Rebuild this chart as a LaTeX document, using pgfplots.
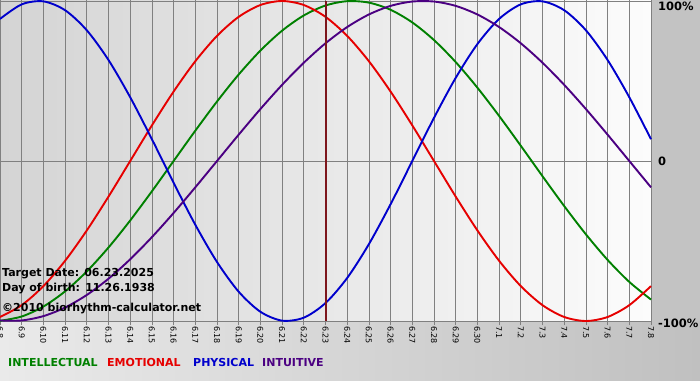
\documentclass[border=0pt]{standalone}
\usepackage{pgfplots}
\usepackage{pgfplotstable}
\pgfplotsset{compat=1.18}
\usepackage{fontspec}
\setmainfont{DejaVu Sans}
\definecolor{cInt}{RGB}{0,128,0}
\definecolor{cEmo}{RGB}{230,0,0}
\definecolor{cPhy}{RGB}{0,0,204}
\definecolor{cItu}{RGB}{75,0,130}
\definecolor{cTgt}{RGB}{125,22,28}
\definecolor{cGrid}{RGB}{128,128,128}
\definecolor{bgL}{RGB}{212,212,212}
\definecolor{bgR}{RGB}{252,252,252}
\definecolor{btL}{RGB}{234,234,234}
\definecolor{btR}{RGB}{192,192,192}
\definecolor{panel}{RGB}{195,195,195}

\pgfplotstableread{
d int emo phy itu
0 -0.9989 -0.9749 0.8879 -0.9966
1 -0.9718 -0.9010 0.9791 -0.9966
2 -0.9096 -0.7818 0.9977 -0.9694
3 -0.8146 -0.6235 0.9423 -0.9158
4 -0.6901 -0.4339 0.8170 -0.8372
5 -0.5406 -0.2225 0.6311 -0.7357
6 -0.3717 0 0.3984 -0.6142
7 -0.1893 0.2225 0.1362 -0.4759
8 0 0.4339 -0.1362 -0.3247
9 0.1893 0.6235 -0.3984 -0.1646
10 0.3717 0.7818 -0.6311 0
11 0.5406 0.9010 -0.8170 0.1646
12 0.6901 0.9749 -0.9423 0.3247
13 0.8146 1 -0.9977 0.4759
14 0.9096 0.9749 -0.9791 0.6142
15 0.9718 0.9010 -0.8879 0.7357
16 0.9989 0.7818 -0.7308 0.8372
17 0.9898 0.6235 -0.5196 0.9158
18 0.9450 0.4339 -0.2698 0.9694
19 0.8660 0.2225 0 0.9966
20 0.7557 0 0.2698 0.9966
21 0.6182 -0.2225 0.5196 0.9694
22 0.4582 -0.4339 0.7308 0.9158
23 0.2817 -0.6235 0.8879 0.8372
24 0.0951 -0.7818 0.9791 0.7357
25 -0.0951 -0.9010 0.9977 0.6142
26 -0.2817 -0.9749 0.9423 0.4759
27 -0.4582 -1 0.8170 0.3247
28 -0.6182 -0.9749 0.6311 0.1646
29 -0.7557 -0.9010 0.3984 0
30 -0.8660 -0.7818 0.1362 -0.1646
}\bio

\begin{document}
\begin{tikzpicture}[x=1pt,y=1pt]
\path[use as bounding box] (0,0) rectangle (700,380);
\shade[left color=btL, right color=btR] (0,0) rectangle (700,59);
\fill[panel] (651,59) rectangle (700,380);
\shade[left color=bgL, right color=bgR] (0,59) rectangle (651,380);
\begin{axis}[at={(0pt,59pt)}, anchor=south west, scale only axis,
  width=651pt, height=320pt,
  xmin=0, xmax=30, ymin=-1, ymax=1,
  axis line style={cGrid, line width=0.8pt},
  xtick={0,...,30},
  xticklabels={6.8,6.9,6.10,6.11,6.12,6.13,6.14,6.15,6.16,6.17,6.18,6.19,6.20,6.21,6.22,6.23,6.24,6.25,6.26,6.27,6.28,6.29,6.30,7.1,7.2,7.3,7.4,7.5,7.6,7.7,7.8},
  xticklabel style={rotate=-90, anchor=west, font=\fontsize{8}{9}\selectfont, inner sep=1pt},
  tick align=outside, major tick length=4pt,
  xtick style={cGrid, line width=0.8pt},
  ytick={0}, yticklabels={}, ytick style={draw=none},
  xmajorgrids, ymajorgrids,
  major grid style={cGrid, line width=0.8pt},
  clip=false]
\addplot[draw=cInt, line width=1.9pt, smooth] table[x=d, y=int] {\bio};
\addplot[draw=cEmo, line width=1.9pt, smooth] table[x=d, y=emo] {\bio};
\addplot[draw=cPhy, line width=1.9pt, smooth] table[x=d, y=phy] {\bio};
\addplot[draw=cItu, line width=1.9pt, smooth] table[x=d, y=itu] {\bio};
\addplot[draw=cTgt, line width=2pt] coordinates {(15,-1) (15,1)};
\end{axis}
\begin{scope}[every node/.style={inner sep=0pt, anchor=base west, font=\fontsize{11}{13}\selectfont\bfseries}]
\node at (2,104) {Target Date: 06.23.2025};
\node at (2,89) {Day of birth: 11.26.1938};
\node at (2,69) {©2010 biorhythm-calculator.net};
\node[text=cInt] at (8,14) {INTELLECTUAL};
\node[text=cEmo] at (107,14) {EMOTIONAL};
\node[text=cPhy] at (193,14) {PHYSICAL};
\node[text=cItu] at (262,14) {INTUITIVE};
\node[font=\fontsize{11.5}{13}\selectfont\bfseries] at (658,369) {100\%};
\node[font=\fontsize{11.5}{13}\selectfont\bfseries] at (658,214) {0};
\node[font=\fontsize{11.5}{13}\selectfont\bfseries] at (658,53) {-100\%};
\end{scope}
\end{tikzpicture}
\end{document}
